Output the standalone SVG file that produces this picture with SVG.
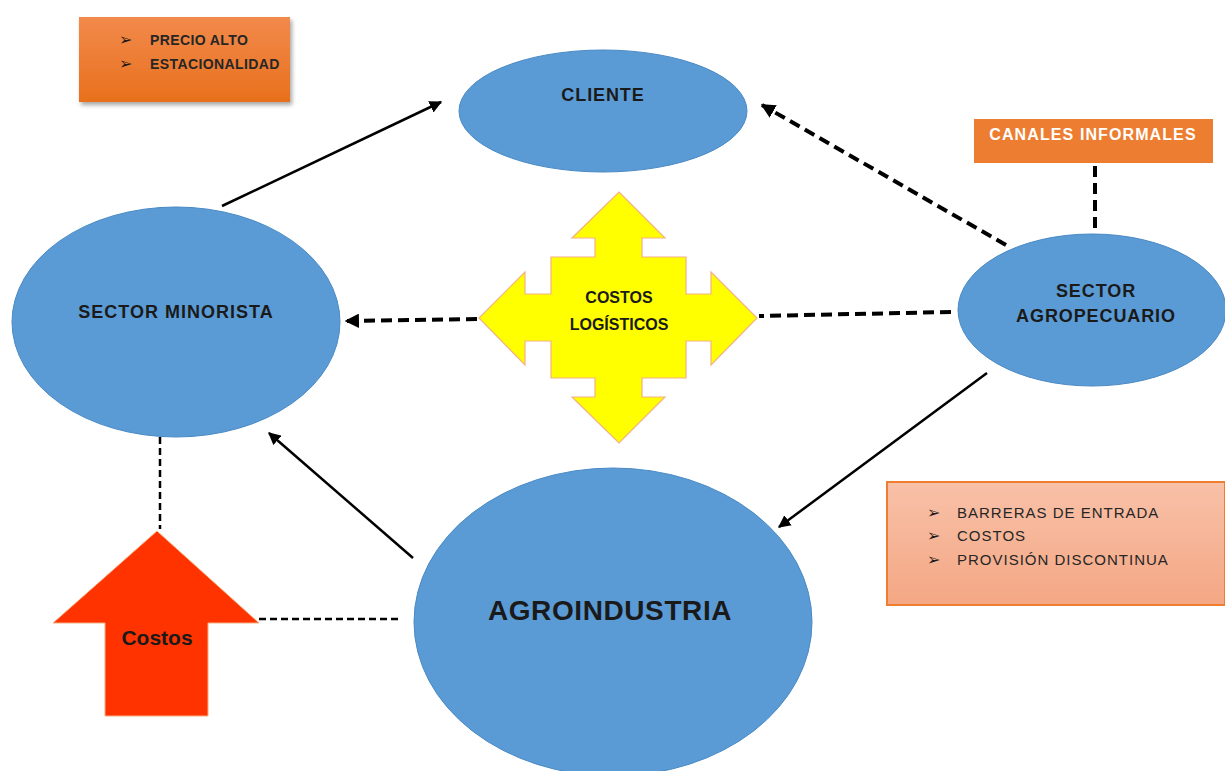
<svg xmlns="http://www.w3.org/2000/svg" width="1225" height="771" viewBox="0 0 1225 771">
<defs>
<style>
.ell{fill:#5b9bd5;stroke:#4a8ac4;stroke-width:1}
.lbl{font-family:"Liberation Sans",Arial,sans-serif;font-weight:bold;fill:#1a1a1a;text-anchor:middle}
.sm{font-family:"Liberation Sans",Arial,sans-serif;font-weight:bold;font-size:14px;fill:#262626;letter-spacing:0.4px}
.rg{font-family:"Liberation Sans",Arial,sans-serif;font-size:15px;fill:#262626;letter-spacing:1px}
.bul{font-family:"DejaVu Sans",sans-serif;font-size:16px;font-weight:bold;fill:#1a1a1a}
.solid{stroke:#000;stroke-width:2.5;fill:none}
.dash{stroke:#000;stroke-width:4;fill:none;stroke-dasharray:11 6}
.thin{stroke:#000;stroke-width:2.5;fill:none;stroke-dasharray:7 4}
</style>
<marker id="ah" viewBox="0 0 10 10" refX="9" refY="5" markerWidth="5" markerHeight="5" orient="auto" markerUnits="strokeWidth">
<path d="M0,0 L10,5 L0,10 z" fill="#000"/>
</marker>
<marker id="ahd" viewBox="0 0 10 10" refX="9" refY="5" markerWidth="3.6" markerHeight="3.6" orient="auto" markerUnits="strokeWidth">
<path d="M0,0 L10,5 L0,10 z" fill="#000"/>
</marker>
<linearGradient id="og" x1="0" y1="0" x2="0" y2="1">
<stop offset="0" stop-color="#f28a4c"/>
<stop offset="1" stop-color="#e8701c"/>
</linearGradient>
<linearGradient id="pg" x1="0" y1="0" x2="0" y2="1">
<stop offset="0" stop-color="#f8c1a8"/>
<stop offset="1" stop-color="#f4a784"/>
</linearGradient>
<filter id="sh" x="-10%" y="-10%" width="125%" height="130%">
<feDropShadow dx="2" dy="3" stdDeviation="2" flood-color="#000" flood-opacity="0.35"/>
</filter>
</defs>
<rect width="1225" height="771" fill="#fff"/>

<g id="connectors">
<line class="solid" x1="222" y1="206" x2="441" y2="102" marker-end="url(#ah)"/>
<line class="dash" x1="1006" y1="245" x2="762" y2="105" marker-end="url(#ahd)"/>
<line class="dash" x1="477" y1="319" x2="346" y2="321" marker-end="url(#ahd)"/>
<line class="dash" x1="951" y1="312" x2="759" y2="316"/>
<line class="solid" x1="413" y1="558" x2="269" y2="433" marker-end="url(#ah)"/>
<line class="solid" x1="987" y1="373" x2="779" y2="527" marker-end="url(#ah)"/>
<line class="thin" x1="160" y1="437" x2="160" y2="529"/>
<line class="thin" x1="259" y1="619" x2="400" y2="619"/>
<line class="dash" x1="1095" y1="166" x2="1095" y2="235" stroke-width="3" stroke-dasharray="10 7"/>
</g>

<g id="precio-box">
<rect x="79" y="17" width="211" height="85" fill="url(#og)" filter="url(#sh)"/>
<text class="bul" x="119" y="45">➢</text>
<text class="bul" x="119" y="69">➢</text>
<text class="sm" x="150" y="45">PRECIO ALTO</text>
<text class="sm" x="150" y="69">ESTACIONALIDAD</text>
</g>

<g id="cliente">
<ellipse class="ell" cx="603" cy="111" rx="144" ry="61"/>
<text class="lbl" x="603" y="101" font-size="18" letter-spacing="0.9">CLIENTE</text>
</g>

<g id="canales">
<rect x="974" y="119" width="239" height="44" fill="#ed7d31"/>
<text x="1093" y="140" font-family="'Liberation Sans',Arial,sans-serif" font-weight="bold" font-size="16" fill="#fff" text-anchor="middle" letter-spacing="1.1">CANALES INFORMALES</text>
</g>

<g id="minorista">
<ellipse class="ell" cx="176" cy="322" rx="164" ry="115"/>
<text class="lbl" x="176" y="318" font-size="18" letter-spacing="1">SECTOR MINORISTA</text>
</g>

<g id="costos-logisticos">
<path d="M619,192 L665,238 L642,238 L642,257 L686,257 L686,294 L711,294 L711,272 L757,318 L711,365 L711,341 L686,341 L686,378 L642,378 L642,397 L665,397 L619,443 L572,397 L595,397 L595,378 L551,378 L551,341 L525,341 L525,365 L479,318 L525,272 L525,294 L551,294 L551,257 L595,257 L595,238 L572,238 Z" fill="#ffff00" stroke="#f4b183" stroke-width="1.2"/>
<text class="lbl" x="619" y="303" font-size="16">COSTOS</text>
<text class="lbl" x="619" y="330" font-size="16">LOGÍSTICOS</text>
</g>

<g id="agropecuario">
<ellipse class="ell" cx="1092" cy="310" rx="134" ry="76"/>
<text class="lbl" x="1096" y="297" font-size="18" letter-spacing="0.9">SECTOR</text>
<text class="lbl" x="1096" y="322" font-size="18" letter-spacing="0.9">AGROPECUARIO</text>
</g>

<g id="barreras-box">
<rect x="887" y="482" width="338" height="123" fill="url(#pg)" stroke="#ed7d31" stroke-width="2"/>
<text class="bul" x="927" y="518">➢</text>
<text class="bul" x="927" y="541">➢</text>
<text class="bul" x="927" y="565">➢</text>
<text class="rg" x="957" y="518">BARRERAS DE ENTRADA</text>
<text class="rg" x="957" y="541">COSTOS</text>
<text class="rg" x="957" y="565">PROVISIÓN DISCONTINUA</text>
</g>

<g id="agroindustria">
<ellipse class="ell" cx="613" cy="622" rx="199" ry="154"/>
<text class="lbl" x="610" y="620" font-size="28" letter-spacing="0.6">AGROINDUSTRIA</text>
</g>

<g id="costos">
<path d="M157,531 L259,623 L208,623 L208,716 L105,716 L105,623 L53,623 Z" fill="#ff3300" stroke="#f4b183" stroke-width="1"/>
<text class="lbl" x="157" y="645" font-size="21">Costos</text>
</g>
</svg>
